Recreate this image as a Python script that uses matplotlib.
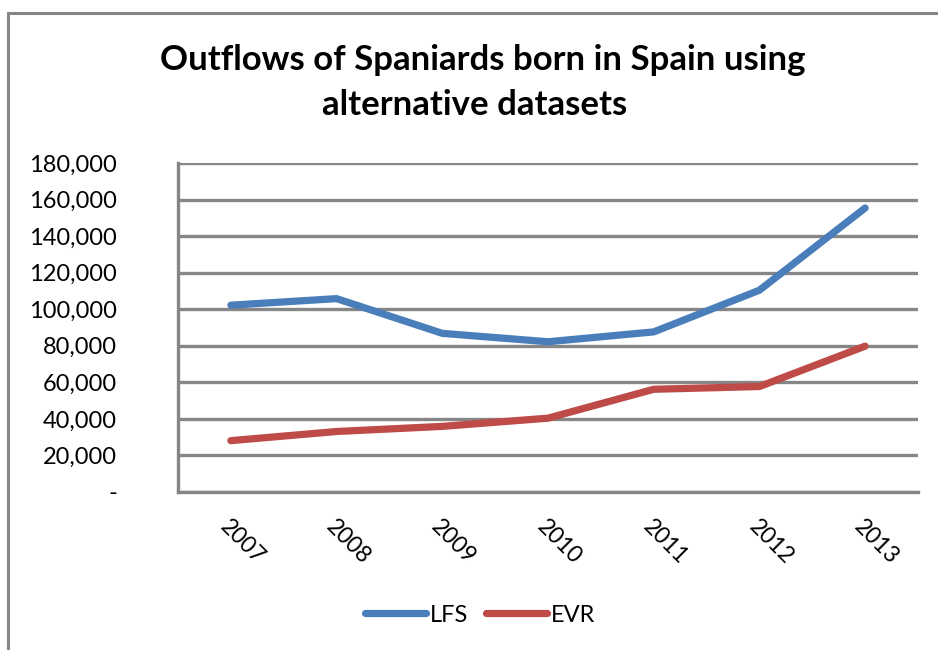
import numpy as np
import matplotlib
matplotlib.use("Agg")
import matplotlib.pyplot as plt
from matplotlib.patches import Rectangle

# Outflows of Spaniards born in Spain, two sources
years = ["2007", "2008", "2009", "2010", "2011", "2012", "2013"]
lfs = [102200, 105800, 86800, 82200, 87600, 110400, 155400]
evr = [28100, 33100, 35900, 40400, 56200, 57700, 79800]
yticks = [0, 20000, 40000, 60000, 80000, 100000, 120000, 140000, 160000, 180000]

plt.rcParams['font.family'] = ['Lato', 'DejaVu Sans']

grey = '#868686'
blue = '#4a7ebb'
red = '#be4b48'

fig = plt.figure(figsize=(9.38, 6.5), dpi=100)

# outer chart border (cut off on the right and bottom in the original)
fig.patches.append(Rectangle((8/938, -0.1), 1.2, (650-13)/650 + 0.1,
                             transform=fig.transFigure, fill=False,
                             edgecolor=grey, linewidth=2.2))

ax = fig.add_axes([178/938, (650-492)/650, 740/938, 329/650])

x = np.arange(len(years))
ax.plot(x, lfs, color=blue, linewidth=5.2, solid_capstyle='round', label='LFS')
ax.plot(x, evr, color=red, linewidth=5.2, solid_capstyle='round', label='EVR')

ax.set_xlim(-0.5, 6.5)
ax.set_ylim(0, 180000)
ax.set_yticks(yticks)
ax.set_yticklabels(['-'] + ['{:,}'.format(v) for v in yticks[1:]], fontsize=17)
ax.yaxis.grid(True, color=grey, linewidth=2.4)
ax.set_axisbelow(True)

ax.set_xticks(x)
ax.set_xticklabels(years, rotation=-45, ha='left', va='top',
                   rotation_mode='anchor', fontsize=16.5)

for side in ['top', 'right']:
    ax.spines[side].set_visible(False)
for side in ['left', 'bottom']:
    ax.spines[side].set_color(grey)
    ax.spines[side].set_linewidth(2.4)
ax.tick_params(axis='y', length=0, pad=44)
ax.tick_params(axis='x', length=0, pad=17)

fig.text(483/938, 1 - 60/650, "Outflows of Spaniards born in Spain using",
         ha='center', va='center', fontsize=25, fontweight='bold')
fig.text(475/938, 1 - 105/650, "alternative datasets",
         ha='center', va='center', fontsize=25, fontweight='bold')

fig.legend(loc='center', bbox_to_anchor=(480/938, 1 - 615/650), ncol=2,
           frameon=False, fontsize=17, handlelength=2.6, handletextpad=0.15,
           columnspacing=0.75)

fig.savefig('out.png', dpi=100)
